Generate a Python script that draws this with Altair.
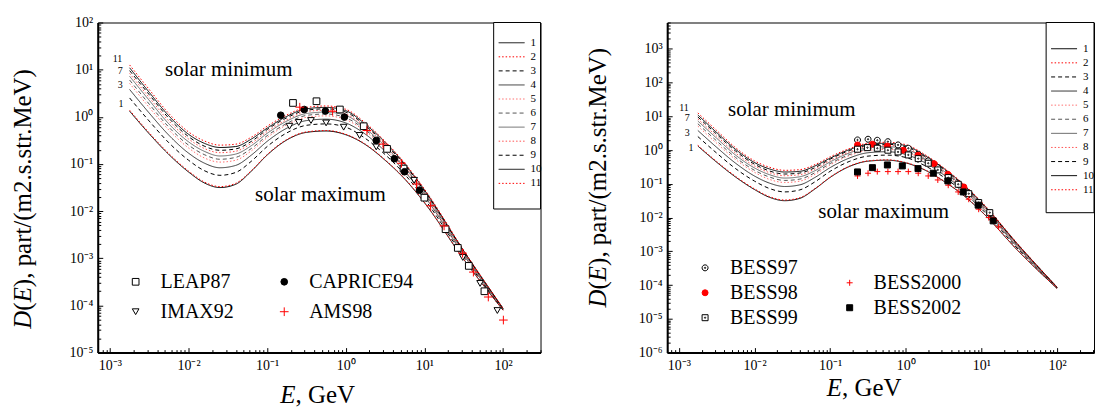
import altair as alt
import pandas as pd

SERIF = "Liberation Serif"

# ---------------- model curves ----------------
E_curve = [0.00178, 0.00316, 0.00562, 0.0100, 0.0158, 0.0251, 0.0398, 0.0631, 0.100,
           0.178, 0.316, 0.562, 1.00, 1.78, 3.16, 5.62, 10.0, 31.6, 100.0]
# log10 D(E) of curves 1 ... 11
curve_1 = [0.12, -0.36, -0.80, -1.17, -1.40, -1.50, -1.43, -1.15, -0.81, -0.49, -0.33, -0.30, -0.38, -0.59, -0.92, -1.32, -1.82, -3.02, -4.10]
curve_2 = [0.14, -0.34, -0.78, -1.15, -1.38, -1.48, -1.41, -1.14, -0.80, -0.48, -0.32, -0.29, -0.37, -0.58, -0.91, -1.31, -1.81, -3.02, -4.10]
curve_3 = [0.40, -0.09, -0.55, -0.92, -1.14, -1.24, -1.18, -0.94, -0.63, -0.34, -0.18, -0.15, -0.22, -0.46, -0.80, -1.22, -1.74, -2.97, -4.09]
curve_4 = [0.58, 0.08, -0.39, -0.77, -0.98, -1.08, -1.03, -0.81, -0.52, -0.24, -0.08, -0.05, -0.13, -0.37, -0.73, -1.16, -1.68, -2.93, -4.08]
curve_5 = [0.71, 0.20, -0.28, -0.66, -0.87, -0.96, -0.92, -0.72, -0.44, -0.17, -0.01, 0.02, -0.06, -0.31, -0.68, -1.12, -1.65, -2.91, -4.08]
curve_6 = [0.78, 0.27, -0.22, -0.60, -0.80, -0.90, -0.86, -0.67, -0.40, -0.14, 0.03, 0.06, -0.02, -0.28, -0.65, -1.09, -1.63, -2.89, -4.07]
curve_7 = [0.86, 0.35, -0.15, -0.53, -0.73, -0.83, -0.79, -0.61, -0.35, -0.09, 0.07, 0.10, 0.03, -0.25, -0.62, -1.07, -1.60, -2.88, -4.07]
curve_8 = [0.92, 0.41, -0.09, -0.47, -0.67, -0.76, -0.73, -0.56, -0.31, -0.06, 0.11, 0.14, 0.06, -0.21, -0.59, -1.04, -1.58, -2.86, -4.07]
curve_9 = [0.98, 0.47, -0.03, -0.42, -0.62, -0.71, -0.68, -0.52, -0.27, -0.02, 0.14, 0.17, 0.10, -0.19, -0.57, -1.02, -1.57, -2.85, -4.07]
curve_10 = [1.04, 0.52, 0.02, -0.37, -0.56, -0.65, -0.63, -0.47, -0.24, 0.01, 0.17, 0.20, 0.13, -0.16, -0.54, -1.00, -1.55, -2.84, -4.06]
curve_11 = [1.10, 0.58, 0.07, -0.32, -0.51, -0.60, -0.58, -0.43, -0.20, 0.04, 0.20, 0.23, 0.16, -0.13, -0.52, -0.98, -1.53, -2.83, -4.06]
curves = [curve_1, curve_2, curve_3, curve_4, curve_5, curve_6, curve_7, curve_8, curve_9, curve_10, curve_11]
curve_names = ["1", "2", "3", "4", "5", "6", "7", "8", "9", "10", "11"]
curve_colors = ["#000000", "#ff0000", "#000000", "#333333", "#ff7070", "#555555",
                "#666666", "#ff5050", "#000000", "#000000", "#ff0000"]
SOLID, DOT, DASH = [1, 0], [1.5, 2], [4, 3]
curve_dash = [SOLID, DOT, DASH, SOLID, DOT, DASH, SOLID, DOT, DASH, SOLID, DOT]

# ---------------- measurements, left panel ----------------
LEAP87_E = [0.213, 0.424, 0.841, 1.69, 3.35, 5.43, 10.0, 18.6, 26.6, 36.7, 58.0]
LEAP87_D = [1.97, 2.14, 1.43, 0.632, 0.209, 0.080, 0.0193, 0.00414, 0.00166, 0.00069, 0.00020]
IMAX92_E = [0.192, 0.252, 0.361, 0.562, 0.94, 1.50, 2.44, 7.4, 30.8, 51.1, 84.7]
IMAX92_D = [0.632, 0.759, 0.836, 0.743, 0.603, 0.403, 0.230, 0.045, 0.00104, 0.000293, 0.000078]
CAPRICE94_E = [0.149, 0.296, 0.551, 0.96, 2.44, 4.14, 5.59, 8.65]
CAPRICE94_D = [1.08, 1.43, 1.33, 0.99, 0.315, 0.129, 0.0684, 0.0277]
AMS98_E = [0.26, 0.68, 1.86, 2.99, 5.11, 7.94, 12.0, 17.8, 30.6, 42.0, 65.0, 101.0]
AMS98_D = [1.60, 1.31, 0.513, 0.264, 0.1035, 0.0376, 0.0130, 0.00486, 0.00128, 0.00051, 0.000151, 0.000049]

# ---------------- measurements, right panel ----------------
BESS97_E = [0.23, 0.317, 0.42, 0.58, 0.79, 1.08, 1.46, 1.98, 2.65, 3.64, 4.93, 6.8, 9.2, 12.9]
BESS97_D = [1.99, 2.09, 1.95, 1.77, 1.42, 1.13, 0.75, 0.477, 0.30, 0.171, 0.097, 0.051, 0.026, 0.013]
BESS98_E = [0.23, 0.362, 0.571, 0.93, 1.45, 2.36, 3.60, 5.85, 9.2, 14.6]
BESS98_D = [1.42, 1.49, 1.32, 0.99, 0.70, 0.396, 0.192, 0.081, 0.0278, 0.0084]
BESS99_E = [0.23, 0.311, 0.42, 0.58, 0.79, 1.08, 1.46, 1.98, 2.65, 3.64, 4.93, 6.8, 9.2, 12.9]
BESS99_D = [1.06, 1.18, 1.13, 0.99, 0.88, 0.716, 0.557, 0.407, 0.258, 0.153, 0.097, 0.051, 0.0278, 0.014]
BESS2000_E = [0.23, 0.317, 0.42, 0.58, 0.79, 1.08, 1.46, 1.98, 2.65, 3.64, 4.93, 6.8, 9.2, 12.5, 16.9]
BESS2000_D = [0.171, 0.206, 0.23, 0.23, 0.23, 0.23, 0.206, 0.171, 0.13, 0.091, 0.0575, 0.035, 0.0177, 0.010, 0.0053]
BESS2002_E = [0.23, 0.362, 0.571, 0.90, 1.45, 2.31, 3.60, 5.74, 9.06, 14.3]
BESS2002_D = [0.225, 0.301, 0.362, 0.339, 0.282, 0.206, 0.122, 0.0575, 0.0233, 0.00798]

# ---------------- tables ----------------
lines_df = pd.DataFrame([{"E": e, "D": 10 ** v, "curve": n}
                         for n, arr in zip(curve_names, curves)
                         for e, v in zip(E_curve, arr)])
legend_df = pd.DataFrame({"curve": curve_names})
one = pd.DataFrame({"k": [0]})


def pts(names, Es, Ds):
    rows = []
    for n, el, dl in zip(names, Es, Ds):
        rows += [{"E": e, "D": d, "ds": n} for e, d in zip(el, dl)]
    return pd.DataFrame(rows)


PLUS = "M-1,0H1M0,-1V1"
PLUS_BIG = "M-1.3,0H1.3M0,-1.3V1.3"
CIRC_DOT = "M1,0A1,1,0,1,1,-1,0A1,1,0,1,1,1,0Z M0.22,0A0.22,0.22,0,1,1,-0.22,0A0.22,0.22,0,1,1,0.22,0Z"
SQ_DOT = "M-1,-1H1V1H-1Z M0.22,0A0.22,0.22,0,1,1,-0.22,0A0.22,0.22,0,1,1,0.22,0Z"

SUP = {"-": "\u207b", "0": "\u2070", "1": "\u00b9", "2": "\u00b2", "3": "\u00b3", "4": "\u2074",
       "5": "\u2075", "6": "\u2076", "7": "\u2077", "8": "\u2078", "9": "\u2079"}


def sup(n):
    return "".join(SUP[c] for c in str(n))


EXPR = " : ".join(f"round(log(datum.value)/LN10) == {k} ? '10{sup(k)}'" for k in range(-7, 5)) + " : ''"


def ticks(lo, hi):
    major, minor = [], []
    for k in range(-7, 5):
        for m in range(1, 10):
            v = float(f"{m}e{k}")
            if lo * 0.999 <= v <= hi * 1.001:
                (major if m == 1 else minor).append(v)
    return major, minor


def lab_axis(orient, values, pad):
    return alt.Axis(orient=orient, values=values, labelExpr=EXPR, ticks=False, tickSize=0,
                    domain=True, domainWidth=2, domainColor="black", labelFont=SERIF,
                    labelFontSize=14, labelColor="black", labelPadding=pad, labelOverlap=False,
                    labelFlush=False, grid=False, title=None)


def tick_axis(orient, values, size):
    return alt.Axis(orient=orient, values=values, labels=False, domain=False, ticks=True,
                    tickSize=size, tickWidth=1, tickColor="black", offset=-size, grid=False,
                    title=None)


def panel(W, H, xdom, ydom, point_groups, box, rows_rng, annots_big, annots_small,
          ytitle, xtitle):
    xmaj, xmin = ticks(*xdom)
    ymaj, ymin = ticks(*ydom)

    def X(axis=None):
        return alt.X("E:Q", scale=alt.Scale(type="log", domain=xdom, nice=False), axis=axis)

    def Y(axis=None):
        return alt.Y("D:Q", scale=alt.Scale(type="log", domain=ydom, nice=False), axis=axis)

    color = alt.Color("curve:N", scale=alt.Scale(domain=curve_names, range=curve_colors), legend=None)
    dash = alt.StrokeDash("curve:N", scale=alt.Scale(domain=curve_names, range=curve_dash), legend=None)

    layers = []
    layers.append(alt.Chart(lines_df).mark_line(strokeWidth=1, interpolate="monotone").encode(
        x=X(lab_axis("bottom", xmaj, 6)), y=Y(lab_axis("left", ymaj, 5)),
        color=color, strokeDash=dash))

    for i, (df, names, shapes, fills, strokes, leg, size) in enumerate(point_groups):
        lg = alt.Legend(title=None, orient="none", labelFont=SERIF, labelFontSize=20,
                        labelColor="black", symbolSize=size, symbolStrokeWidth=1, padding=0, **leg)
        fld = "ds:N"
        layers.append(alt.Chart(df).mark_point(size=size, strokeWidth=1, opacity=1).encode(
            x=X(tick_axis("bottom", xmaj, 5) if i == 0 else None),
            y=Y(tick_axis("left", ymaj, 5) if i == 0 else None),
            shape=alt.Shape(fld, scale=alt.Scale(domain=names, range=shapes), legend=lg),
            fill=alt.Fill(fld, scale=alt.Scale(domain=names, range=fills), legend=lg),
            stroke=alt.Stroke(fld, scale=alt.Scale(domain=names, range=strokes), legend=lg)))

    layers.append(alt.Chart(annots_big).mark_text(font=SERIF, fontSize=21, color="black").encode(
        x=X(tick_axis("bottom", xmin, 3)), y=Y(tick_axis("left", ymin, 3)), text="label:N"))
    layers.append(alt.Chart(annots_small).mark_text(font=SERIF, fontSize=10, color="black").encode(
        x=X(), y=Y(), text="label:N"))

    # legend of the curves
    bx0, bx1, by0, by1 = box
    layers.append(alt.Chart(one).mark_rect(fill="white", stroke="black", strokeWidth=1).encode(
        x=alt.value(bx0), x2=alt.value(bx1), y=alt.value(by0), y2=alt.value(by1)))
    yleg = alt.Y("curve:N", scale=alt.Scale(type="point", domain=curve_names, range=rows_rng, padding=0),
                 axis=None)
    layers.append(alt.Chart(legend_df).mark_rule(strokeWidth=1).encode(
        y=yleg, x=alt.value(bx0 + 5), x2=alt.value(bx0 + 31), color=color, strokeDash=dash))
    layers.append(alt.Chart(legend_df).mark_text(align="left", baseline="middle", font=SERIF,
                                                 fontSize=11, color="black").encode(
        y=yleg, x=alt.value(bx0 + 37), text="curve:N"))

    # axis titles with italic symbols
    tx, ty = ytitle
    fs = 25
    pieces = [("D", "italic", 0.722), ("(", "normal", 0.333), ("E", "italic", 0.611),
              ("), part/(m2.s.str.MeV)", "normal", 0)]
    pos = ty
    for txt, style, w in pieces:
        layers.append(alt.Chart(one).mark_text(text=txt, font=SERIF, fontSize=fs, fontStyle=style,
                                               angle=270, align="left", baseline="middle",
                                               color="black").encode(
            x=alt.value(tx), y=alt.value(pos)))
        pos -= w * fs
    ex, ey = xtitle
    layers.append(alt.Chart(one).mark_text(text="E", font=SERIF, fontSize=fs, fontStyle="italic",
                                           align="left", baseline="alphabetic", color="black").encode(
        x=alt.value(ex), y=alt.value(ey)))
    layers.append(alt.Chart(one).mark_text(text=", GeV", font=SERIF, fontSize=fs,
                                           align="left", baseline="alphabetic", color="black").encode(
        x=alt.value(ex + 0.611 * fs), y=alt.value(ey)))

    return alt.layer(*layers).resolve_scale(
        x="independent", y="independent", color="independent", strokeDash="independent",
        shape="independent", fill="independent", stroke="independent"
    ).properties(width=W, height=H)


left_names = ["LEAP87", "IMAX92", "CAPRICE94", "AMS98"]
left_pts = pts(left_names, [LEAP87_E, IMAX92_E, CAPRICE94_E, AMS98_E],
               [LEAP87_D, IMAX92_D, CAPRICE94_D, AMS98_D])
left = panel(
    444, 331, [7e-4, 300], [1e-5, 100],
    [(left_pts, left_names,
      ["square", "triangle-down", "circle", PLUS_BIG],
      ["white", "white", "black", "transparent"],
      ["black", "black", "black", "#ff0000"],
      dict(legendX=28, legendY=250, columns=2, columnPadding=40, rowPadding=10, labelOffset=15), 45)],
    (397, 444, 0, 187), [20.3, 161.3],
    pd.DataFrame({"E": [0.0325, 0.476], "D": [9.7, 0.022], "label": ["solar minimum", "solar maximum"]}),
    pd.DataFrame({"E": [0.00125, 0.00135, 0.00135, 0.00138], "D": [16.5, 9.2, 4.66, 1.85],
                  "label": ["11", "7", "3", "1"]}),
    (-75, 307), (183, 382))

r1 = ["BESS97", "BESS98", "BESS99"]
r2 = ["BESS2000", "BESS2002"]
right_pts1 = pts(r1, [BESS97_E, BESS98_E, BESS99_E], [BESS97_D, BESS98_D, BESS99_D])
right_pts2 = pts(r2, [BESS2000_E, BESS2002_E], [BESS2000_D, BESS2002_D])
right = panel(
    428, 331, [7e-4, 308], [1e-6, 6000],
    [(right_pts1, r1, [CIRC_DOT, "circle", SQ_DOT], ["white", "#ff0000", "white"],
      ["black", "#ff0000", "black"],
      dict(legendX=28, legendY=236, rowPadding=5, labelOffset=15), 36),
     (right_pts2, r2, [PLUS, "square"], ["transparent", "black"], ["#ff0000", "black"],
      dict(legendX=173, legendY=251, rowPadding=5, labelOffset=14), 36)],
    (380, 428, 0, 190.7), [26.3, 167.7],
    pd.DataFrame({"E": [0.0311, 0.51], "D": [15.8, 0.0146], "label": ["solar minimum", "solar maximum"]}),
    pd.DataFrame({"E": [0.00117, 0.00129, 0.00129, 0.00145], "D": [17.6, 8.75, 3.15, 1.16],
                  "label": ["11", "7", "3", "1"]}),
    (-69, 285.7), (160, 375))

chart = alt.hconcat(left, right, spacing=43).resolve_scale(
    color="independent", strokeDash="independent", shape="independent",
    fill="independent", stroke="independent"
).properties(
    padding={"left": 2, "top": 6, "right": 0, "bottom": 0}
).configure_view(stroke="black", strokeWidth=1)

chart.save("out.html", embed_options={"renderer": "svg", "actions": False})
